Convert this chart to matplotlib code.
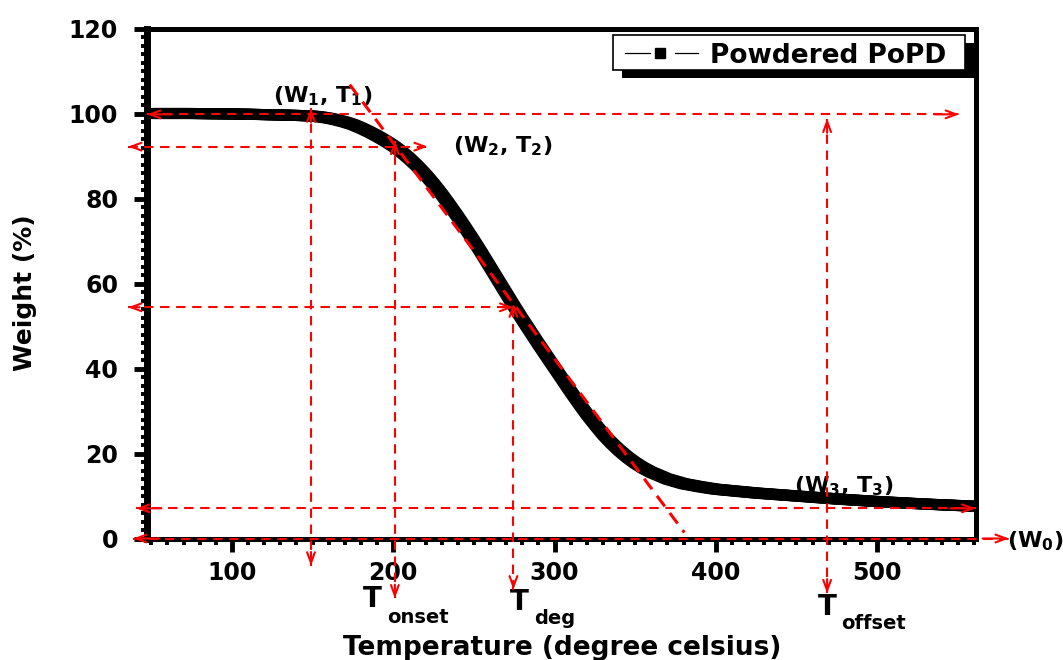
import numpy as np
import matplotlib.pyplot as plt
import matplotlib.patheffects as pe
from matplotlib.ticker import MultipleLocator
from matplotlib.patches import Rectangle
from matplotlib.lines import Line2D

plt.rcParams['font.family'] = 'DejaVu Sans'
plt.rcParams['font.weight'] = 'bold'
plt.rcParams['mathtext.fontset'] = 'dejavusans'

# TGA curve of the powdered polymer
series_name = "Powdered PoPD"
temperature = [50, 75, 100, 125, 140, 150, 155, 160, 165, 170, 175, 180, 185, 190, 195,
               200, 205, 210, 215, 220, 225, 230, 235, 240, 245, 250, 255, 260, 265,
               270, 275, 280, 285, 290, 295, 300, 305, 310, 315, 320, 325, 330, 335,
               340, 345, 350, 355, 360, 370, 380, 390, 400, 425, 450, 475, 500, 530, 560]
weight = [100.0, 100.0, 99.9, 99.7, 99.55, 99.4, 99.2, 98.9, 98.5, 98.0, 97.4, 96.6,
          95.7, 94.7, 93.6, 92.4, 91.0, 89.4, 87.6, 85.6, 83.4, 81.0, 78.4, 75.7,
          72.9, 70.0, 67.0, 63.9, 60.8, 57.7, 54.6, 51.6, 48.7, 45.8, 43.0, 40.2,
          37.4, 34.6, 31.9, 29.3, 26.9, 24.6, 22.6, 20.8, 19.2, 17.8, 16.6, 15.6,
          14.0, 12.9, 12.2, 11.6, 10.7, 10.0, 9.3, 8.7, 8.1, 7.6]

# characteristic points
T1, W1 = 149, 99.8
T2, W2 = 201, 92.2
T_deg, W_deg = 274.5, 54.4
T_off, W_off = 469, 7.1
W0 = 0
tangent_T = [173, 380.5]
tangent_W = [106.8, 1.4]

FW, FH = 1063, 660


def fx(px):
    return px / FW


def fy(py):
    return 1 - py / FH


fig = plt.figure(figsize=(FW / 100, FH / 100), dpi=100)
ax = fig.add_axes([fx(146.5), fy(538.5), fx(975.5) - fx(146.5), fy(28.5) - fy(538.5)])

# thick band made of a square-ish pen
offs = np.linspace(-3.8, 3.8, 5) * 0.72
band = [pe.Stroke(offset=(dx, dy), linewidth=2.5) for dx in offs for dy in offs]
ax.plot(temperature, weight, color='black', lw=2.5, zorder=3,
        solid_capstyle='butt', solid_joinstyle='round', path_effects=band)

ax.set_xlim(47, 561)
ax.set_ylim(0, 120)
ax.xaxis.set_major_locator(MultipleLocator(100))
ax.xaxis.set_minor_locator(MultipleLocator(10))
ax.yaxis.set_major_locator(MultipleLocator(20))
ax.yaxis.set_minor_locator(MultipleLocator(2))
ax.tick_params(which='major', direction='out', length=9.5, width=3.5, labelsize=17)
ax.tick_params(which='minor', direction='out', length=4.5, width=2.8)
ax.tick_params(axis='x', which='major', pad=7)
ax.tick_params(axis='y', which='major', pad=11)
for side in ['top', 'right', 'bottom']:
    ax.spines[side].set_linewidth(3.6)
ax.spines['left'].set_linewidth(5)

red = '#ff0000'
head = '->,head_length=0.75,head_width=0.28'


def dashed_arrow(x0, y0, x1, y1):
    ax.plot([x0, x1], [y0, y1], color=red, lw=1.5, ls=(0, (4.5, 3.2)),
            clip_on=False, zorder=6)
    for xa, ya, xb, yb in [(x0, y0, x1, y1), (x1, y1, x0, y0)]:
        ax.annotate('', xy=(xa, ya), xytext=(xa + (xb - xa) * 0.03, ya + (yb - ya) * 0.03),
                    arrowprops=dict(arrowstyle=head, color=red, lw=1.5, mutation_scale=10,
                                    shrinkA=0, shrinkB=0),
                    annotation_clip=False, zorder=6)


# horizontal guides
dashed_arrow(47.4, W1, 550.8, W1)
dashed_arrow(35.6, W2, 221.4, W2)
dashed_arrow(35.6, W_deg, T_deg, W_deg)
dashed_arrow(40.6, W_off, 561, W_off)
dashed_arrow(38.7, W0, 581.7, W0)
# vertical guides
dashed_arrow(T1, -6.4, T1, 101.2)
dashed_arrow(T2, -14.1, T2, 93.6)
dashed_arrow(T_deg, -12, T_deg, 55.3)
dashed_arrow(T_off, -12.9, T_off, 98.8)

# tangent through the inflection region
ax.plot(tangent_T, tangent_W, color=red, lw=2.2, ls=(0, (4.3, 2.7)), zorder=6)

# point labels
lab = dict(fontsize=16, fontweight='bold', ha='left', va='baseline', zorder=2)
ax.text(125.4, 102.6, r'(W$_\mathbf{1}$, T$_\mathbf{1}$)', **lab)
ax.text(236.8, 90.8, r'(W$_\mathbf{2}$, T$_\mathbf{2}$)', **lab)
ax.text(448.6, 10.8, r'(W$_\mathbf{3}$, T$_\mathbf{3}$)', **lab)
ax.text(580.5, -2.1, r'(W$_\mathbf{0}$)', **lab)

big = dict(fontsize=20, fontweight='bold', ha='left', va='baseline')
small = dict(fontsize=14, fontweight='bold', ha='left', va='baseline')
ax.text(181.1, -16.2, 'T', **big)
ax.text(196.0, -19.8, 'onset', **small)
ax.text(272.1, -16.9, 'T', **big)
ax.text(287.6, -20.0, 'deg', **small)
ax.text(463.5, -18.1, 'T', **big)
ax.text(477.7, -21.2, 'offset', **small)

fig.text(fx(562), fy(655), 'Temperature (degree celsius)', fontsize=19,
         fontweight='bold', ha='center', va='baseline')
fig.text(fx(25), fy(293), 'Weight (%)', fontsize=18, fontweight='bold',
         rotation=90, ha='center', va='center')

# legend box with drop shadow
fig.add_artist(Rectangle((fx(622), fy(78)), fx(976) - fx(622), fy(43) - fy(78),
                         transform=fig.transFigure, facecolor='black', edgecolor='none',
                         zorder=7))
fig.add_artist(Rectangle((fx(613), fy(70)), fx(965) - fx(613), fy(35) - fy(70),
                         transform=fig.transFigure, facecolor='white', edgecolor='black',
                         lw=1.2, zorder=8))
fig.add_artist(Line2D([fx(625), fx(650)], [fy(53), fy(53)], transform=fig.transFigure,
                      color='black', lw=0.9, zorder=9))
fig.add_artist(Line2D([fx(675), fx(698)], [fy(53), fy(53)], transform=fig.transFigure,
                      color='black', lw=0.9, zorder=9))
fig.add_artist(Line2D([fx(660.5)], [fy(53)], transform=fig.transFigure, marker='s',
                      markersize=6.5, color='black', zorder=9))
fig.text(fx(710), fy(63), series_name, fontsize=19, fontweight='bold',
         ha='left', va='baseline', zorder=9)

fig.savefig('out.png', dpi=100)
